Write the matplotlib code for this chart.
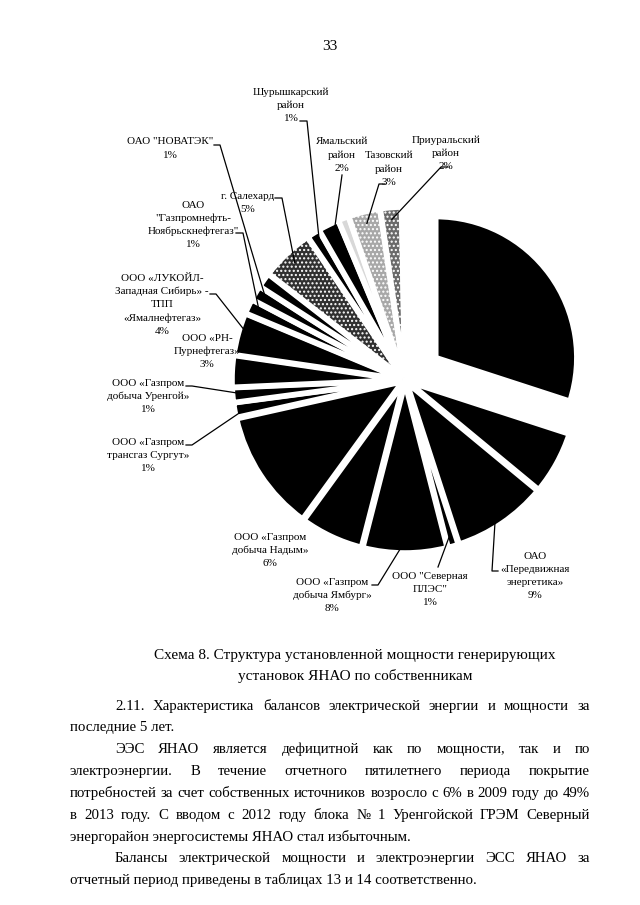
import numpy as np
import matplotlib.pyplot as plt

plt.rcParams['font.family'] = ['Liberation Serif', 'DejaVu Serif']

# Структура установленной мощности по собственникам, %, по часовой стрелке от 12 часов
owners = ['', '', 'ОАО\n«Передвижная\nэнергетика»', 'ООО "Северная\nПЛЭС"',
          'ООО «Газпром\nдобыча Ямбург»', 'ООО «Газпром\nдобыча Надым»', '',
          'ООО «Газпром\nтрансгаз Сургут»', 'ООО «Газпром\nдобыча Уренгой»',
          'ООО «РН-\nПурнефтегаз»',
          'ООО «ЛУКОЙЛ-\nЗападная Сибирь» -\nТПП\n«Ямалнефтегаз»',
          'ОАО\n"Газпромнефть-\nНоябрьскнефтегаз"', 'ОАО "НОВАТЭК"', '',
          'г. Салехард', 'Шурышкарский\nрайон', 'Ямальский\nрайон', '',
          'Тазовский\nрайон', 'Приуральский\nрайон', '']
shares = [30, 6, 9, 1, 8, 6, 11.5, 1.4, 1.4, 3, 4, 1.4, 1.4, 1.4, 5, 1.2, 2, 1, 3, 2, 0.3]

caption = ['Схема 8. Структура установленной мощности генерирующих',
           'установок ЯНАО по собственникам']
body = [
    ('2.11. Характеристика балансов электрической энергии и мощности за', True, True),
    ('последние 5 лет.', False, False),
    ('ЭЭС ЯНАО является дефицитной как по мощности, так и по', True, True),
    ('электроэнергии. В течение отчетного пятилетнего периода покрытие', False, True),
    ('потребностей за счет собственных источников возросло с 6% в 2009 году до 49%', False, True),
    ('в 2013 году. С вводом с 2012 году блока № 1 Уренгойской ГРЭМ Северный', False, True),
    ('энергорайон энергосистемы ЯНАО стал избыточным.', False, False),
    ('Балансы электрической мощности и электроэнергии ЭСС ЯНАО за', True, True),
    ('отчетный период приведены в таблицах 13 и 14 соответственно.', False, False),
]

# оформление секторов
colors = ['black'] * len(shares)
hatches = [None] * len(shares)
colors[14], hatches[14] = '#303030', '....'
colors[17] = '#d8d8d8'
colors[18], hatches[18] = '#a8a8a8', '....'
colors[19], hatches[19] = '#6a6a6a', '....'
colors[20] = '#e4e4e4'
explode = [38] + [3] * (len(shares) - 1)

W, H = 640, 905
fig = plt.figure(figsize=(W / 100, H / 100), dpi=100)
ax = fig.add_axes([0, 0, 1, 1])

cx, cy, R = 405, 380, 170
wedges, _ = ax.pie(shares, colors=colors, explode=explode, center=(cx, cy), radius=R,
                   startangle=-90, counterclock=True,
                   wedgeprops=dict(edgecolor='white', linewidth=4))
wedges[0].set_radius(R * 0.83)
for w, h in zip(wedges, hatches):
    if h:
        w.set_hatch(h)

ax.set_xlim(0, W)
ax.set_ylim(H, 0)
ax.set_aspect('equal')
ax.axis('off')

# подписи: центр текста, y первой строки, точки выноски
layout = {
    2: (535, 556, [(498, 571), (492, 571)]),
    3: (430, 576, [(438, 567)]),
    4: (332, 582, [(372, 585), (378, 585)]),
    5: (270, 537, None),
    7: (148, 442, [(186, 445), (192, 445)]),
    8: (148, 383, [(186, 386), (192, 386)]),
    9: (207, 338, None),
    10: (162, 278, [(210, 294), (216, 294)]),
    11: (193, 205, [(236, 233), (243, 233)]),
    12: (170, 142, [(214, 145), (220, 145)]),
    14: (248, 196, [(275, 198), (282, 198)]),
    15: (291, 92, [(300, 121), (307, 121)]),
    16: (342, 142, [(342, 175)]),
    18: (389, 156, [(385, 184), (379, 184)]),
    19: (446, 140, [(448, 167), (441, 167)]),
}
step = 13.3
for i, (tx, ty, pts) in layout.items():
    lines = owners[i].split('\n') + [f'{round(shares[i])}%']
    for k, ln in enumerate(lines):
        ax.text(tx, ty + k * step, ln, ha='center', va='center', fontsize=8)
    if pts:
        w = wedges[i]
        mid = np.deg2rad((w.theta1 + w.theta2) / 2)
        px = w.center[0] + 0.93 * w.r * np.cos(mid)
        py = w.center[1] + 0.93 * w.r * np.sin(mid)
        xs = [p[0] for p in pts] + [px]
        ys = [p[1] for p in pts] + [py]
        ax.plot(xs, ys, color='black', lw=0.9)

# номер страницы и подпись схемы
ax.text(330, 46, '33', ha='center', va='center', fontsize=11)
for k, line in enumerate(caption):
    ax.text(355, 655 + k * 21, line, ha='center', va='center', fontsize=11)

# основной текст с выравниванием по ширине
renderer = fig.canvas.get_renderer()
x_left, x_right, indent = 70, 590, 45
fs = 10.7
for k, (line, ind, just) in enumerate(body):
    y = 706 + k * 21.8
    x0 = x_left + (indent if ind else 0)
    if not just:
        ax.text(x0, y, line, ha='left', va='center', fontsize=fs)
        continue
    words = line.split()
    items = [ax.text(0, y, wd, ha='left', va='center', fontsize=fs) for wd in words]
    widths = [t.get_window_extent(renderer).width for t in items]
    gap = (x_right - x0 - sum(widths)) / (len(words) - 1)
    x = x0
    for t, wd in zip(items, widths):
        t.set_x(x)
        x += wd + gap

fig.savefig('out.png', dpi=100, facecolor='white')
